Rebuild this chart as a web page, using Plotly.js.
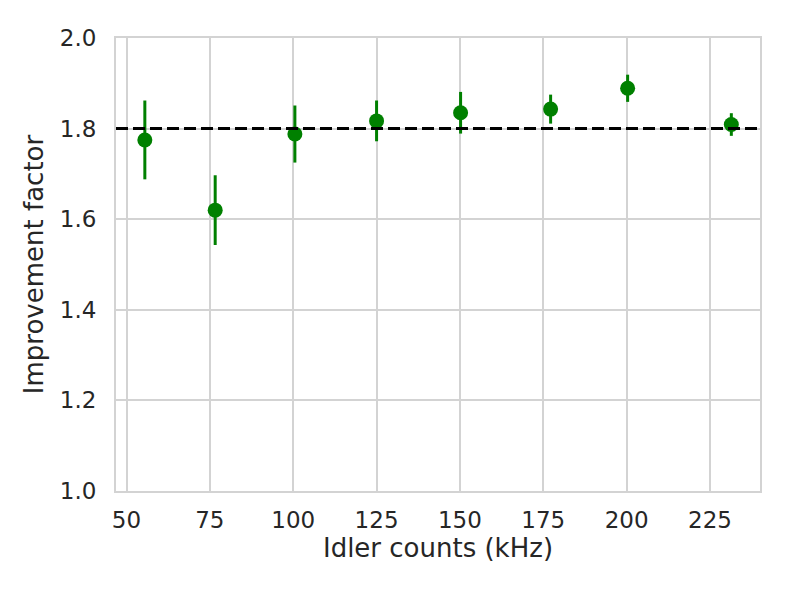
<!DOCTYPE html>
<html>
<head>
<meta charset="utf-8">
<script src="https://cdn.plot.ly/plotly-3.0.1.min.js"></script>
<style>html,body{margin:0;padding:0;background:#fff;}#chart{width:789px;height:592px;}</style>
</head>
<body>
<div id="chart"></div>
<script>
const idlerCounts = [55.5, 76.6, 100.5, 125.0, 150.2, 177.2, 200.3, 231.4];
const improvement = [1.775, 1.620, 1.788, 1.817, 1.835, 1.843, 1.889, 1.809];
const errors = [0.087, 0.077, 0.063, 0.045, 0.046, 0.032, 0.030, 0.025];
const referenceLevel = 1.8;
const xTicks = [50, 75, 100, 125, 150, 175, 200, 225];
const yTicks = [1.0, 1.2, 1.4, 1.6, 1.8, 2.0];

const font = 'DejaVu Sans, sans-serif';
const grid = '#d3d3d3';
const traces = [{
  type: 'scatter', mode: 'markers',
  x: idlerCounts, y: improvement,
  marker: {color: '#008000', size: 15},
  error_y: {type: 'data', array: errors, visible: true, color: '#008000', thickness: 3, width: 0},
  showlegend: false, hoverinfo: 'skip'
}];
const layout = {
  width: 789, height: 592,
  margin: {l: 116, r: 29, t: 38, b: 101},
  paper_bgcolor: '#fff', plot_bgcolor: '#fff',
  font: {family: font, color: '#262626', size: 22},
  showlegend: false,
  xaxis: {
    range: [46.85, 240], tickvals: xTicks, ticktext: xTicks.map(String),
    showgrid: true, gridcolor: grid, gridwidth: 2,
    zeroline: false, showline: true, linecolor: grid, linewidth: 2, mirror: true,
    ticks: 'outside', ticklen: 7, tickcolor: 'rgba(0,0,0,0)', tickfont: {size: 23, color: '#262626'},
    title: {text: 'Idler counts (kHz)', font: {size: 26, color: '#262626'}, standoff: 6}
  },
  yaxis: {
    range: [1.0, 2.0], tickvals: yTicks, ticktext: yTicks.map(v => v.toFixed(1)),
    showgrid: true, gridcolor: grid, gridwidth: 2,
    zeroline: false, showline: true, linecolor: grid, linewidth: 2, mirror: true,
    ticks: 'outside', ticklen: 13, tickcolor: 'rgba(0,0,0,0)', tickfont: {size: 23, color: '#262626'},
    title: {text: 'Improvement factor', font: {size: 26, color: '#262626'}, standoff: 9}
  },
  shapes: [{
    type: 'line', xref: 'paper', x0: 0, x1: 1, yref: 'y', y0: referenceLevel, y1: referenceLevel,
    line: {color: '#000', width: 3, dash: '12px,5px'}, layer: 'above'
  }]
};
Plotly.newPlot('chart', traces, layout, {displayModeBar: false, staticPlot: true});
</script>
</body>
</html>
